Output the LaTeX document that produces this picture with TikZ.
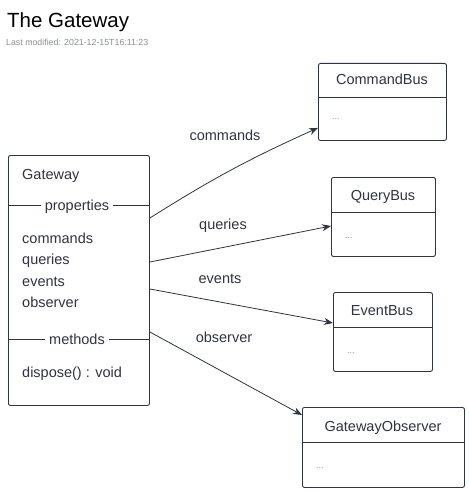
\documentclass[tikz,border=0pt]{standalone}
\usepackage{fontspec}
\setmainfont{Liberation Sans}
\usetikzlibrary{arrows.meta,calc}
\definecolor{ink}{HTML}{2E3440}
\definecolor{greytxt}{HTML}{8A8F98}
\tikzset{
  x=1pt,y=-1pt,
  box/.style={draw=ink,line width=0.9pt,rounded corners=2pt,rectangle,inner sep=0pt,anchor=north west},
  sep/.style={draw=ink,line width=0.8pt},
  txt/.style={font=\fontsize{14.5}{16}\selectfont,text=ink,anchor=base west,inner sep=0pt},
  htxt/.style={font=\fontsize{14.5}{16}\selectfont,text=ink,anchor=base,inner sep=0pt},
  dots/.style={font=\fontsize{9}{10}\selectfont,text=greytxt,anchor=base west,inner sep=0pt},
  seplabel/.style={font=\fontsize{14.5}{16}\selectfont,text=ink,fill=white,inner xsep=4pt,inner ysep=1pt},
  conn/.style={draw=ink,line width=0.8pt,-{Stealth[length=9pt,width=7pt,inset=3pt]}},
  clabel/.style={font=\fontsize{14.5}{16}\selectfont,text=ink,anchor=base,inner sep=0pt}
}
\begin{document}
\begin{tikzpicture}
\useasboundingbox (0,0) rectangle (468,492);
\fill[white] (0,0) rectangle (468,492);
% title
\node[anchor=base west,inner sep=0pt,font=\fontsize{20.5}{24}\selectfont,text=black] (title) at (7,28) {The Gateway};
\node[anchor=base west,inner sep=0pt,font=\fontsize{8.8}{10}\selectfont,text=greytxt] (mod) at (6,46) {Last modified: 2021-12-15T16:11:23};

% Gateway box
\node[box,minimum width=141pt,minimum height=250pt] (gw) at (8,155) {};
\node[txt] (gwt) at (22,179) {Gateway};
\draw[sep] (8,205) -- (149,205);
\node[seplabel,anchor=base] (gwp) at (77,210) {properties};
\node[txt] (p1) at (22,243) {commands};
\node[txt] (p2) at (22,264) {queries};
\node[txt] (p3) at (22,286) {events};
\node[txt] (p4) at (22,307) {observer};
\draw[sep] (8,339) -- (149,339);
\node[seplabel,anchor=base] (gwm) at (77,344) {methods};
\node[txt] (m1) at (22,377) {dispose() : void};

% CommandBus
\node[box,minimum width=128pt,minimum height=77pt] (cb) at (318,63) {};
\node[htxt] (cbt) at (382,85) {CommandBus};
\draw[sep] (318,97) -- (446,97);
\node[dots] (cbd) at (332,120) {...};

% QueryBus
\node[box,minimum width=104pt,minimum height=79pt] (qb) at (331,177) {};
\node[htxt] (qbt) at (383,200) {QueryBus};
\draw[sep] (331,212) -- (435,212);
\node[dots] (qbd) at (345,238) {...};

% EventBus
\node[box,minimum width=99pt,minimum height=79pt] (eb) at (333,292) {};
\node[htxt] (ebt) at (382,315) {EventBus};
\draw[sep] (333,327) -- (432,327);
\node[dots] (ebd) at (347,353) {...};

% GatewayObserver
\node[box,minimum width=162pt,minimum height=80pt] (go) at (302,407) {};
\node[htxt] (got) at (383,431) {GatewayObserver};
\draw[sep] (302,442) -- (464,442);
\node[dots] (god) at (316,468) {...};

% connectors
\draw[conn] ($(gw.north east)+(0,63)$) to[bend left=4] ($(cb.south west)+(0,-13)$);
\draw[conn] ($(gw.north east)+(0,107)$) -- ($(qb.north west)+(0,49)$);
\draw[conn] ($(gw.north east)+(0,134)$) -- ($(eb.north west)+(0,31)$);
\draw[conn] ($(gw.north east)+(0,177)$) -- ($(go.north west)+(0,8)$);

\node[clabel] (lc) at (225,140) {commands};
\node[clabel] (lq) at (223,229) {queries};
\node[clabel] (le) at (220,283) {events};
\node[clabel] (lo) at (224,342) {observer};
\end{tikzpicture}
\end{document}
